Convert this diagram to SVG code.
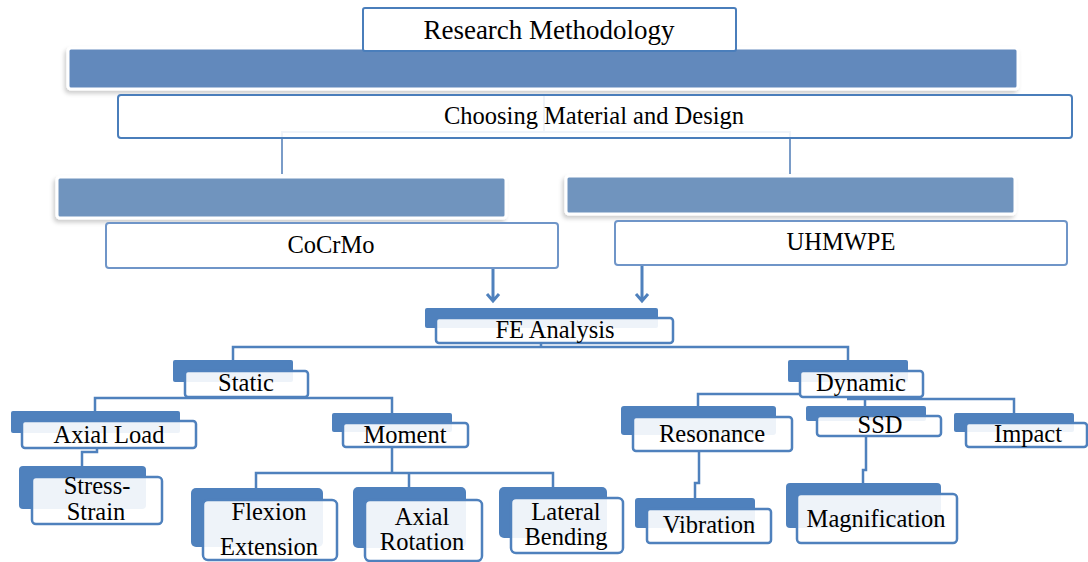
<svg xmlns="http://www.w3.org/2000/svg" width="1088" height="562" viewBox="0 0 1088 562">
<defs>
<filter id="sh" x="-5%" y="-30%" width="110%" height="160%">
<feDropShadow dx="-2" dy="3" stdDeviation="2" flood-color="#000" flood-opacity="0.2"/>
</filter>
<style>
.bar{stroke:#fff;stroke-width:3;filter:url(#sh)}
.top{fill:#fff;fill-opacity:0.88;stroke:#4A7EBB;stroke-width:2}
.top2{fill:#fff;stroke:#6F95C8;stroke-width:2}
.back{fill:#4F81BD}
.front{fill:#fff;fill-opacity:0.9;stroke:#4F81BD;stroke-width:2.5}
.c{fill:none;stroke:#4F81BD;stroke-width:2.5}
.ct{fill:none;stroke:#7A9CC8;stroke-width:2}
.a{fill:none;stroke:#4F81BD;stroke-width:3}
text{font-family:"Liberation Serif","Times New Roman",serif;fill:#000;text-anchor:middle;font-size:24.5px}
</style>
</defs>
<rect width="1088" height="562" fill="#fff"/>
<g id="connectors">
<path class="ct" d="M544 96V132M282 174V132H790V174"/>
<path class="a" d="M493 268V301M487 294L493 301L499 294"/>
<path class="a" d="M642 265V301M636 294L642 301L648 294"/>
<path class="c" d="M541 343V347M233 360V347H848V360"/>
<path class="c" d="M233 397V398M95 411V398H392V413"/>
<path class="c" d="M97 448V452H82V466"/>
<path class="c" d="M392 447V473M256 488V473H553V487M409 473V487"/>
<path class="c" d="M698 406V394H800M861 397V399M847 399H1014V413M865 399V406"/>
<path class="c" d="M699 451V483H695V498"/>
<path class="c" d="M866 436V470H863V483"/>
</g>
<g id="n-bar1"><rect class="bar" x="68" y="48" width="950" height="41" rx="3" fill="#6289BC"/></g>
<g id="n-research"><rect x="363" y="8" width="373" height="43" rx="2" fill="#fff" stroke="#4A7EBB" stroke-width="2"/><text x="549" y="39" style="font-size:27px">Research Methodology</text></g>
<g id="n-choosing"><rect class="top" x="118" y="95" width="954" height="43" rx="3"/><text x="594" y="124">Choosing Material and Design</text></g>
<g id="n-bar-left"><rect class="bar" x="57" y="177" width="449" height="41" rx="3" fill="#7094BE"/></g>
<g id="n-bar-right"><rect class="bar" x="566" y="176" width="449" height="38" rx="3" fill="#7094BE"/></g>
<g id="n-cocrmo"><rect class="top2" x="106" y="223" width="452" height="45" rx="3"/><text x="331" y="253">CoCrMo</text></g>
<g id="n-uhmwpe"><rect class="top2" x="615" y="221" width="452" height="44" rx="3"/><text x="841" y="250">UHMWPE</text></g>
<g id="n-fe"><rect class="back" x="425" y="308" width="233" height="20" rx="2"/><rect class="front" x="436" y="318" width="237" height="25" rx="3"/><text x="555" y="338">FE Analysis</text></g>
<g id="n-static"><rect class="back" x="173" y="360" width="120" height="22" rx="2"/><rect class="front" x="185" y="371" width="123" height="26" rx="3"/><text x="246" y="391">Static</text></g>
<g id="n-dynamic"><rect class="back" x="788" y="360" width="120" height="22" rx="2"/><rect class="front" x="800" y="371" width="123" height="26" rx="3"/><text x="861" y="391">Dynamic</text></g>
<g id="n-axial-load"><rect class="back" x="11" y="411" width="169" height="22" rx="2"/><rect class="front" x="22" y="421" width="174" height="27" rx="3"/><text x="109" y="443">Axial Load</text></g>
<g id="n-moment"><rect class="back" x="332" y="413" width="120" height="19" rx="2"/><rect class="front" x="343" y="423" width="125" height="24" rx="3"/><text x="405" y="443">Moment</text></g>
<g id="n-stress"><rect class="back" x="19" y="466" width="127" height="43" rx="4"/><rect class="front" x="32" y="477" width="130" height="47" rx="4"/><text x="97" y="494">Stress-</text><text x="96" y="520">Strain</text></g>
<g id="n-flexion"><rect class="back" x="191" y="488" width="132" height="59" rx="5"/><rect class="front" x="203" y="500" width="134" height="60" rx="5"/><text x="269" y="520">Flexion</text><text x="269" y="555">Extension</text></g>
<g id="n-axial-rot"><rect class="back" x="353" y="487" width="113" height="61" rx="5"/><rect class="front" x="365" y="500" width="117" height="61" rx="5"/><text x="422" y="525">Axial</text><text x="422" y="550">Rotation</text></g>
<g id="n-lateral"><rect class="back" x="499" y="487" width="108" height="51" rx="5"/><rect class="front" x="511" y="498" width="112" height="55" rx="5"/><text x="566" y="520">Lateral</text><text x="566" y="545">Bending</text></g>
<g id="n-resonance"><rect class="back" x="621" y="406" width="155" height="29" rx="3"/><rect class="front" x="633" y="417" width="159" height="34" rx="3"/><text x="712" y="442">Resonance</text></g>
<g id="n-ssd"><rect class="back" x="806" y="406" width="120" height="15" rx="2"/><rect class="front" x="817" y="416" width="124" height="20" rx="3"/><text x="880" y="433">SSD</text></g>
<g id="n-impact"><rect class="back" x="954" y="413" width="120" height="19" rx="2"/><rect class="front" x="966" y="423" width="121" height="24" rx="3"/><text x="1028" y="442">Impact</text></g>
<g id="n-vibration"><rect class="back" x="635" y="498" width="120" height="30" rx="3"/><rect class="front" x="647" y="509" width="124" height="34" rx="3"/><text x="709" y="533">Vibration</text></g>
<g id="n-magnification"><rect class="back" x="786" y="483" width="155" height="45" rx="4"/><rect class="front" x="797" y="494" width="160" height="49" rx="4"/><text x="876" y="527">Magnification</text></g>
</svg>
